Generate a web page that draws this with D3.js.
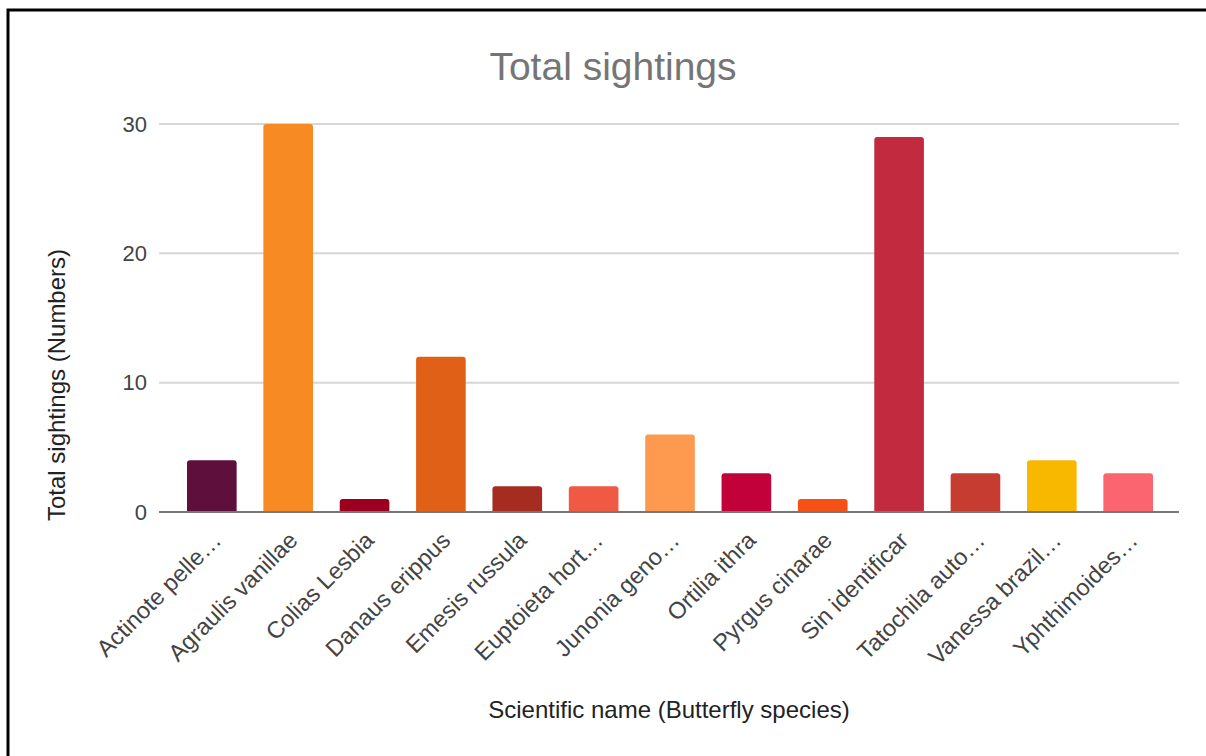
<!DOCTYPE html>
<html>
<head>
<meta charset="utf-8">
<script src="https://cdn.jsdelivr.net/npm/d3@7"></script>
<style>
  html, body { margin: 0; padding: 0; background: #fff; }
  svg { display: block; }
  text { font-family: Arial, "Liberation Sans", sans-serif; }
</style>
</head>
<body>
<svg id="chart" width="1206" height="756"></svg>
<script>
const species = ["Actinote pelle…", "Agraulis vanillae", "Colias Lesbia", "Danaus erippus", "Emesis russula", "Euptoieta hort…", "Junonia geno…", "Ortilia ithra", "Pyrgus cinarae", "Sin identificar", "Tatochila auto…", "Vanessa brazil…", "Yphthimoides…"];
const sightings = [4, 30, 1, 12, 2, 2, 6, 3, 1, 29, 3, 4, 3];
const barColors = ["#5e0f3b", "#f88a24", "#9c0020", "#e06018", "#a62b20", "#f05a45", "#fd9a50", "#c2003a", "#f55016", "#c22a40", "#c73c30", "#f8b800", "#fb6570"];
const yTicks = [0, 10, 20, 30];
const chartTitle = "Total sightings";
const xTitle = "Scientific name (Butterfly species)";
const yTitle = "Total sightings (Numbers)";

const svg = d3.select("#chart");

// frame border
svg.append("rect").attr("x", 8).attr("y", 10).attr("width", 1300).attr("height", 800)
  .attr("fill", "none").attr("stroke", "#000").attr("stroke-width", 3);

const plotLeft = 159, plotRight = 1179, plotTop = 124, plotBottom = 512;

const y = d3.scaleLinear().domain([0, 30]).range([plotBottom, plotTop]);
const x = d3.scaleBand().domain(species).range([187, 1153]).paddingInner(0.35).paddingOuter(0);

// gridlines
svg.append("g").selectAll("line").data(yTicks.filter(d => d > 0)).join("line")
  .attr("x1", plotLeft).attr("x2", plotRight)
  .attr("y1", d => y(d)).attr("y2", d => y(d))
  .attr("stroke", "#d6d6d6").attr("stroke-width", 2);

// y tick labels
const yAxis = d3.axisLeft(y).tickValues(yTicks).tickSize(0).tickPadding(0);
const yg = svg.append("g").attr("transform", `translate(${plotLeft - 12},0)`).call(yAxis);
yg.select(".domain").remove();
yg.selectAll("text").attr("font-size", 22).attr("fill", "#444").attr("font-family", "Arial, 'Liberation Sans', sans-serif");

// bars
svg.append("g").selectAll("path").data(species).join("path")
  .attr("d", (d, i) => {
    const x0 = x(d), w = x.bandwidth(), y0 = y(sightings[i]), yb = y(0), r = 3;
    return `M${x0},${yb} V${y0 + r} Q${x0},${y0} ${x0 + r},${y0} H${x0 + w - r} Q${x0 + w},${y0} ${x0 + w},${y0 + r} V${yb} Z`;
  })
  .attr("fill", (d, i) => barColors[i]);

// baseline
svg.append("line").attr("x1", plotLeft).attr("x2", plotRight)
  .attr("y1", y(0)).attr("y2", y(0)).attr("stroke", "#777").attr("stroke-width", 2);

// x labels
const xAxis = d3.axisBottom(x).tickSize(0).tickPadding(0);
const xg = svg.append("g").attr("transform", `translate(0,${plotBottom})`).call(xAxis);
xg.select(".domain").remove();
xg.selectAll("text")
  .attr("font-size", 23.5).attr("fill", "#444").attr("font-family", "Arial, 'Liberation Sans', sans-serif")
  .attr("text-anchor", "end")
  .attr("dy", "0.35em").attr("y", 0)
  .attr("transform", "translate(5,24) rotate(-45)");

// title
svg.append("text").attr("x", 613).attr("y", 80).attr("text-anchor", "middle")
  .attr("font-size", 39).attr("fill", "#757575").text(chartTitle);

// x title
svg.append("text").attr("x", 669).attr("y", 718).attr("text-anchor", "middle")
  .attr("font-size", 24).attr("fill", "#222").text(xTitle);

// y title
svg.append("text").attr("transform", "translate(65,385) rotate(-90)").attr("text-anchor", "middle")
  .attr("font-size", 24).attr("fill", "#222").text(yTitle);
</script>
</body>
</html>
